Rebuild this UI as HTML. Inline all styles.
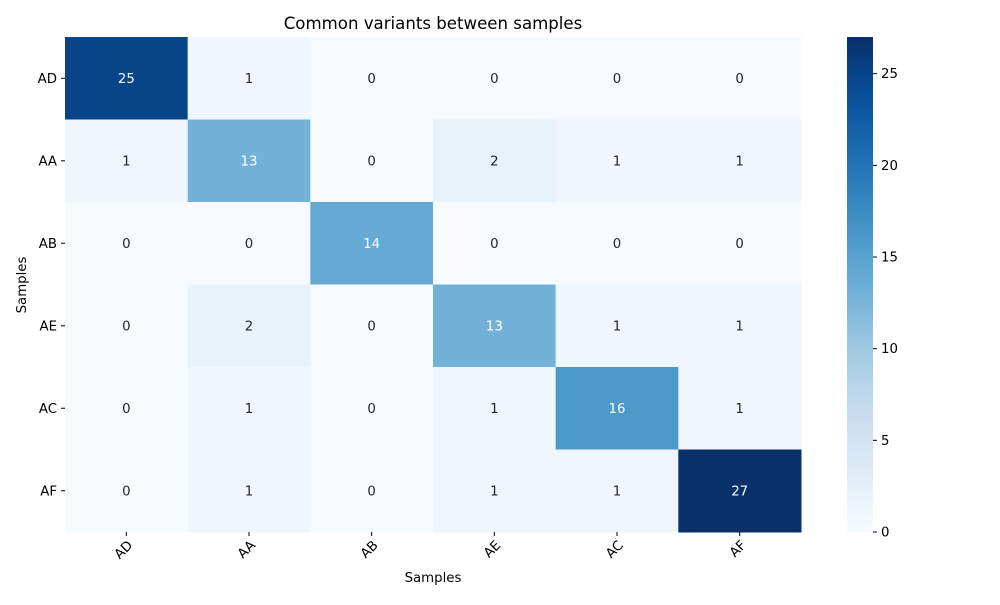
<!DOCTYPE html>
<html><head><meta charset="utf-8"><style>
body{margin:0;background:#fff}
svg text{font-family:"DejaVu Sans","Liberation Sans",sans-serif}
</style></head><body>
<svg id="chart" width="1000" height="600" xmlns="http://www.w3.org/2000/svg">
<text x="433" y="29" text-anchor="middle" font-size="16.6">Common variants between samples</text>
<text x="433" y="582" text-anchor="middle" font-size="13.3">Samples</text>
<text transform="translate(26,285) rotate(-90)" text-anchor="middle" font-size="13.3">Samples</text>
<defs><linearGradient id="cbg" x1="0" y1="1" x2="0" y2="0"></linearGradient></defs>
<g id="cells"></g><g id="xt"></g><g id="yt"></g><g id="cb"></g>
</svg>
<script>
const rowLabels=["AD","AA","AB","AE","AC","AF"];
const colLabels=["AD","AA","AB","AE","AC","AF"];
const values=[
[25,1,0,0,0,0],
[1,13,0,2,1,1],
[0,0,14,0,0,0],
[0,2,0,13,1,1],
[0,1,0,1,16,1],
[0,1,0,1,1,27]];
const cbTicks=[0,5,10,15,20,25];
const vmin=0,vmax=27;
const NS="http://www.w3.org/2000/svg";
const L=65,T=37,W=736,H=495;
const FS=13.3;
const stops=["#f7fbff","#deebf7","#c6dbef","#9ecae1","#6baed6","#4292c6","#2171b5","#08519c","#08306b"];
function hex(h){return [1,3,5].map(i=>parseInt(h.substr(i,2),16));}
function cmap(v){let t=Math.max(0,Math.min(1,(v-vmin)/(vmax-vmin)))*8;let i=Math.min(7,Math.floor(t)),f=t-i;
const a=hex(stops[i]),b=hex(stops[i+1]);return "rgb("+a.map((c,k)=>Math.round(c+(b[k]-c)*f)).join(",")+")";}
function lum(v){let t=Math.max(0,Math.min(1,(v-vmin)/(vmax-vmin)))*8;let i=Math.min(7,Math.floor(t)),f=t-i;
const a=hex(stops[i]),b=hex(stops[i+1]);const c=a.map((x,k)=>(x+(b[k]-x)*f)/255).map(x=>x<=0.03928?x/12.92:Math.pow((x+0.055)/1.055,2.4));
return 0.2126*c[0]+0.7152*c[1]+0.0722*c[2];}
const nc=colLabels.length,nr=rowLabels.length,cw=W/nc,ch=H/nr;
function xs(j){return L+j*cw;} function ys(i){return T+i*ch;}
function el(t,a,p){const e=document.createElementNS(NS,t);for(const k in a)e.setAttribute(k,a[k]);p.appendChild(e);return e;}
const cells=document.getElementById('cells');
values.forEach((row,i)=>row.forEach((v,j)=>{
 const r=el('rect',{x:xs(j),y:ys(i),width:cw+0.5,height:ch+0.5,fill:cmap(v)},cells);
 
 
 const t=el('text',{x:xs(j)+cw/2,y:ys(i)+ch/2+4.5,'text-anchor':'middle','font-size':FS,fill:lum(v)>0.408?'#262626':'#ffffff'},cells);
 t.textContent=v;
 
 
}));
const xt=document.getElementById('xt');
colLabels.forEach((c,j)=>{const x=xs(j)+cw/2;
 el('line',{x1:x,x2:x,y1:T+H,y2:T+H+4,stroke:'#000'},xt);
 const t=el('text',{transform:`translate(${x+7},${T+H+14}) rotate(-45)`,'text-anchor':'end','font-size':FS},xt);
 t.textContent=c;
 
 });
const yt=document.getElementById('yt');
rowLabels.forEach((c,i)=>{const y=ys(i)+ch/2;
 el('line',{x1:L-4,x2:L,y1:y,y2:y,stroke:'#000'},yt);
 const t=el('text',{x:L-8,y:y+4.5,'text-anchor':'end','font-size':FS},yt);
 t.textContent=c;
 
 });
const g=document.getElementById('cbg');
for(let k=0;k<=20;k++){el('stop',{offset:k/20,'stop-color':cmap(vmin+(vmax-vmin)*k/20)},g);}
const cb=document.getElementById('cb');
const CX=847,CW=26;
const bar=el('rect',{x:CX,y:T,width:CW,height:H,fill:'url(#cbg)'},cb);


function cy(v){return T+H-(v-vmin)/(vmax-vmin)*H;}
cbTicks.forEach(v=>{const y=cy(v);
 el('line',{x1:CX+CW,x2:CX+CW+4,y1:y,y2:y,stroke:'#000'},cb);
 const t=el('text',{x:CX+CW+8,y:y+4.5,'font-size':FS},cb);
 t.textContent=v;
 
 });
</script>
</body></html>
